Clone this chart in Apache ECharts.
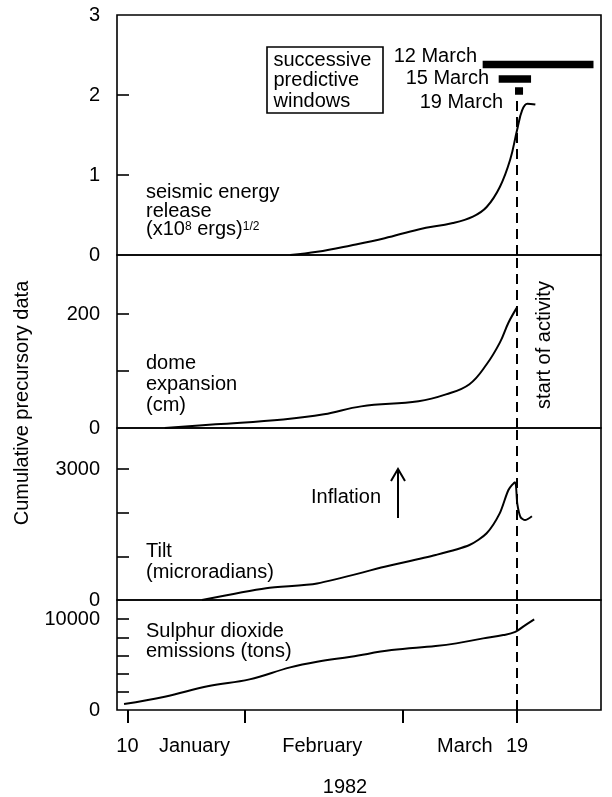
<!DOCTYPE html>
<html>
<head>
<meta charset="utf-8">
<script src="https://cdn.jsdelivr.net/npm/echarts@6/dist/echarts.min.js"></script>
<style>html,body{margin:0;padding:0;background:#fff}#c{width:612px;height:797px}</style>
</head>
<body>
<div id="c"></div>
<script>
// ---- data (x = day of year 1982) ----
const seismicDays = [38.4, 43.1, 49.0, 54.9, 60.8, 66.8, 70.3, 72.7, 75.0, 76.8, 78.0, 78.9, 79.8, 81.2];
const seismicVals = [0, 0.04, 0.12, 0.21, 0.32, 0.40, 0.48, 0.60, 0.85, 1.19, 1.56, 1.81, 1.89, 1.88];

const domeDays = [16.5, 25.4, 37.2, 44.3, 50.8, 60.8, 65.6, 69.7, 72.7, 75.0, 76.5, 78.0];
const domeVals = [0, 6.5, 15, 24, 38, 47, 59, 77, 112, 150, 185, 212];

const tiltDays = [23.0, 34.2, 43.1, 54.9, 63.8, 69.7, 72.7, 75.0, 76.5, 77.65, 78.05, 78.6, 79.4, 80.6];
const tiltVals = [0, 270, 380, 760, 1030, 1260, 1530, 1990, 2520, 2700, 2200, 1900, 1830, 1920];

const so2Days = [9.4, 16.5, 24.2, 31.3, 38.4, 43.1, 49.0, 56.1, 63.8, 67.4, 72.1, 75.6, 77.7, 79.2, 81.0];
const so2Vals = [650, 1460, 2640, 3370, 4690, 5310, 5860, 6590, 7030, 7330, 7880, 8240, 8600, 9230, 9970];

// predictive windows (seismic panel units)
const windowNames = ['12 March', '15 March', '19 March'];
const windowStart = [72.0, 74.8, 77.65];
const windowEnd = [91.35, 80.45, 79.05];
const windowLevel = [2.38, 2.20, 2.05];

const activityDay = 78;       // 19 March, start of activity
const activityTopSeismic = 1.98;

// axes
const xMin = 8.17, xMax = 92.66;
const xTickDays = [10, 30.5, 58, 78];
const xLabelDays = [10, 21.7, 44, 68.9, 78];
const xLabelTexts = ['10', 'January', 'February', 'March', '19'];

const seismicMax = 3, seismicTicks = [1, 2], seismicLabels = [0, 1, 2, 3];
const domeMax = 304, domeTicks = [100, 200], domeLabels = [0, 200];
const tiltMax = 3940, tiltTicks = [1000, 2000, 3000], tiltLabels = [0, 3000];
const so2Max = 12100, so2Ticks = [2000, 4000, 6000, 8000, 10000], so2Labels = [0, 10000];

// ---- chart ----
const FONT = '"Liberation Sans", Arial, Helvetica, sans-serif';
const FS = 20;
const zip = (a, b) => a.map((v, i) => [v, b[i]]);

const panels = [
  {top: 15, height: 240, max: seismicMax, ticks: seismicTicks, labels: seismicLabels},
  {top: 255, height: 173, max: domeMax, ticks: domeTicks, labels: domeLabels},
  {top: 428, height: 172, max: tiltMax, ticks: tiltTicks, labels: tiltLabels},
  {top: 600, height: 110, max: so2Max, ticks: so2Ticks, labels: so2Labels}
];

const grids = panels.map(p => ({
  left: 117, right: 11, top: p.top, height: p.height,
  show: true, borderColor: '#000', borderWidth: 1.6, backgroundColor: 'transparent'
}));

const xAxes = panels.map((p, i) => {
  const last = i === panels.length - 1;
  return {
    type: 'value', gridIndex: i, min: xMin, max: xMax,
    axisLine: {show: false},
    splitLine: {show: false},
    axisTick: last ? {show: true, customValues: xTickDays, length: 13, lineStyle: {color: '#000', width: 2}} : {show: false},
    axisLabel: last ? {
      show: true, customValues: xLabelDays, margin: 26, color: '#000',
      fontFamily: FONT, fontSize: FS,
      formatter: v => {
        let best = 0;
        xLabelDays.forEach((d, k) => { if (Math.abs(d - v) < Math.abs(xLabelDays[best] - v)) best = k; });
        return xLabelTexts[best];
      }
    } : {show: false}
  };
});

const yAxes = panels.map((p, i) => ({
  type: 'value', gridIndex: i, min: 0, max: p.max,
  axisLine: {show: false},
  splitLine: {show: false},
  axisTick: {show: true, inside: true, length: 12, customValues: p.ticks, lineStyle: {color: '#000', width: 1.6}},
  axisLabel: {show: true, customValues: p.labels, margin: 17, color: '#000', fontFamily: FONT, fontSize: FS,
    showMinLabel: true, showMaxLabel: true, formatter: v => String(v)}
}));

function dashed(y0, y1) {
  return {
    silent: true, symbol: ['none', 'none'], label: {show: false},
    lineStyle: {type: [10, 6], color: '#000', width: 2},
    emphasis: {disabled: true},
    data: [[{coord: [activityDay, y0]}, {coord: [activityDay, y1]}]]
  };
}

const curveStyle = {color: '#000', width: 2};
const series = [
  {type: 'line', xAxisIndex: 0, yAxisIndex: 0, data: zip(seismicDays, seismicVals), smooth: 0.4,
   symbol: 'none', lineStyle: curveStyle, markLine: dashed(0, activityTopSeismic)},
  {type: 'line', xAxisIndex: 1, yAxisIndex: 1, data: zip(domeDays, domeVals), smooth: 0.4,
   symbol: 'none', lineStyle: curveStyle, markLine: dashed(0, domeMax)},
  {type: 'line', xAxisIndex: 2, yAxisIndex: 2, data: zip(tiltDays, tiltVals), smooth: 0.25,
   symbol: 'none', lineStyle: curveStyle, markLine: dashed(0, tiltMax)},
  {type: 'line', xAxisIndex: 3, yAxisIndex: 3, data: zip(so2Days, so2Vals), smooth: 0.4,
   symbol: 'none', lineStyle: curveStyle, markLine: dashed(0, so2Max)}
];
windowNames.forEach((n, k) => {
  series.push({
    type: 'line', name: n, xAxisIndex: 0, yAxisIndex: 0, symbol: 'none',
    data: [[windowStart[k], windowLevel[k]], [windowEnd[k], windowLevel[k]]],
    lineStyle: {color: '#000', width: 7.5, cap: 'butt'}
  });
});

function txt(text, x, y, extra) {
  return {
    type: 'text', x: x, y: y, silent: true,
    style: Object.assign({text: text, fill: '#000', fontFamily: FONT, fontSize: FS,
      align: 'left', verticalAlign: 'top'}, extra || {})
  };
}

const supRich = {s: {fontSize: 12, fontFamily: FONT, fill: '#000', verticalAlign: 'top', lineHeight: 12}};

const graphic = [
  // y-axis title
  {type: 'text', x: 22, y: 403, rotation: Math.PI / 2, silent: true,
   style: {text: 'Cumulative precursory data', fill: '#000', fontFamily: FONT, fontSize: FS, align: 'center', verticalAlign: 'middle'}},
  // x-axis title
  {type: 'text', x: 345, y: 787, silent: true,
   style: {text: '1982', fill: '#000', fontFamily: FONT, fontSize: FS, align: 'center', verticalAlign: 'middle'}},
  // start of activity
  {type: 'text', x: 544, y: 345, rotation: Math.PI / 2, silent: true,
   style: {text: 'start of activity', fill: '#000', fontFamily: FONT, fontSize: FS, align: 'center', verticalAlign: 'middle'}},
  // panel labels
  txt('seismic energy\nrelease\n(x10{s|8} ergs){s|1/2}', 146, 183.5, {lineHeight: 18.5, rich: supRich}),
  txt('dome\nexpansion\n(cm)', 146, 353, {lineHeight: 20.8}),
  txt('Tilt\n(microradians)', 146, 541, {lineHeight: 20.7}),
  txt('Sulphur dioxide\nemissions (tons)', 146, 621.5, {lineHeight: 20}),
  // predictive windows box
  {type: 'rect', silent: true, shape: {x: 267, y: 47, width: 116, height: 66},
   style: {fill: 'none', stroke: '#000', lineWidth: 1.6}},
  txt('successive\npredictive\nwindows', 273.5, 50, {lineHeight: 20.5}),
  // window labels
  {type: 'text', x: 477, y: 56.5, silent: true, style: {text: windowNames[0], fill: '#000', fontFamily: FONT, fontSize: FS, align: 'right', verticalAlign: 'middle'}},
  {type: 'text', x: 489, y: 78.5, silent: true, style: {text: windowNames[1], fill: '#000', fontFamily: FONT, fontSize: FS, align: 'right', verticalAlign: 'middle'}},
  {type: 'text', x: 503, y: 102.5, silent: true, style: {text: windowNames[2], fill: '#000', fontFamily: FONT, fontSize: FS, align: 'right', verticalAlign: 'middle'}},
  // inflation
  {type: 'text', x: 311, y: 497, silent: true, style: {text: 'Inflation', fill: '#000', fontFamily: FONT, fontSize: FS, align: 'left', verticalAlign: 'middle'}},
  {type: 'line', silent: true, shape: {x1: 398, y1: 518, x2: 398, y2: 469}, style: {stroke: '#000', lineWidth: 2}},
  {type: 'polyline', silent: true, shape: {points: [[391, 481], [398, 469], [405, 481]]}, style: {stroke: '#000', lineWidth: 2, fill: 'none'}}
];

const chart = echarts.init(document.getElementById('c'), null, {renderer: 'canvas'});
chart.setOption({
  animation: false,
  backgroundColor: '#fff',
  grid: grids,
  xAxis: xAxes,
  yAxis: yAxes,
  series: series,
  graphic: graphic
});
</script>
</body>
</html>
